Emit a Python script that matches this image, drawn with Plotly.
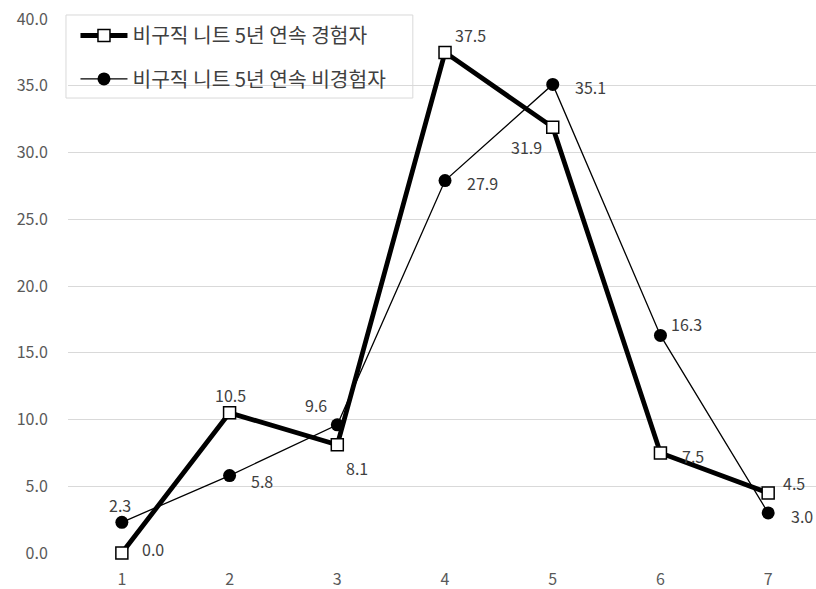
import plotly.graph_objects as go

categories = [1, 2, 3, 4, 5, 6, 7]
series_names = ["비구직 니트 5년 연속 경험자", "비구직 니트 5년 연속 비경험자"]
experienced = [0.0, 10.5, 8.1, 37.5, 31.9, 7.5, 4.5]
non_experienced = [2.3, 5.8, 9.6, 27.9, 35.1, 16.3, 3.0]
y_ticks = [0, 5, 10, 15, 20, 25, 30, 35, 40]

# pixel offsets (dx right, dy up) of each value label from its marker
shift_exp = [(31, 4), (1, 18), (20, -23), (25, 17), (-26, -20), (33, -3), (26, 10)]
shift_non = [(-2, 17), (32, -5), (-21, 20), (37, -2), (38, -3), (26, 11), (34, -3)]

FONT = "Noto Sans CJK KR, Noto Sans, sans-serif"
LABEL = dict(family=FONT, size=16, color="#404040")

fig = go.Figure()
fig.add_trace(go.Scatter(
    x=categories, y=experienced, name=series_names[0],
    mode="lines+markers", legendgroup="a",
    line=dict(color="black", width=4.8),
    marker=dict(symbol="square", size=12, color="white",
                line=dict(color="black", width=1.5)),
    cliponaxis=False,
))
fig.add_trace(go.Scatter(
    x=categories, y=non_experienced, name=series_names[1],
    mode="lines+markers", legendgroup="b",
    line=dict(color="black", width=1.3),
    marker=dict(symbol="circle", size=13, color="black"),
    cliponaxis=False,
))

for vals, shifts in ((experienced, shift_exp), (non_experienced, shift_non)):
    for c, v, (dx, dy) in zip(categories, vals, shifts):
        fig.add_annotation(x=c, y=v, text=f"{v:.1f}", showarrow=False,
                           xshift=dx, yshift=dy, font=LABEL)

# legend frame
fig.add_shape(type="rect", xref="paper", yref="paper", layer="between",
              x0=-0.0027, x1=0.461, y0=0.852, y1=1.0075,
              fillcolor="white", line=dict(color="#d9d9d9", width=1))

fig.update_layout(
    width=816, height=589,
    margin=dict(l=68, r=0, t=19, b=36, autoexpand=False),
    paper_bgcolor="white", plot_bgcolor="white",
    font=dict(family=FONT, size=16, color="#595959"),
    showlegend=True,
    legend=dict(
        x=0.01, y=1.006, xanchor="left", yanchor="top",
        bgcolor="rgba(0,0,0,0)", borderwidth=0,
        font=dict(family=FONT, size=20.3, color="#404040"),
        itemwidth=47, traceorder="grouped", tracegroupgap=14,
    ),
    xaxis=dict(
        range=[0.5, 7.444], tickvals=categories, ticktext=[str(c) for c in categories],
        showgrid=False, zeroline=False, showline=False, automargin=False,
        ticks="outside", ticklen=12, tickcolor="rgba(0,0,0,0)",
        tickfont=dict(family=FONT, size=16, color="#595959"),
    ),
    yaxis=dict(
        range=[0, 40], tickvals=y_ticks, ticktext=[f"{v:.1f}" for v in y_ticks],
        showgrid=True, gridcolor="#d9d9d9", gridwidth=1.3,
        zeroline=False, showline=False, automargin=False,
        ticks="outside", ticklen=16, tickcolor="rgba(0,0,0,0)",
        tickfont=dict(family=FONT, size=16, color="#595959"),
    ),
)

fig.write_html("out.html")
